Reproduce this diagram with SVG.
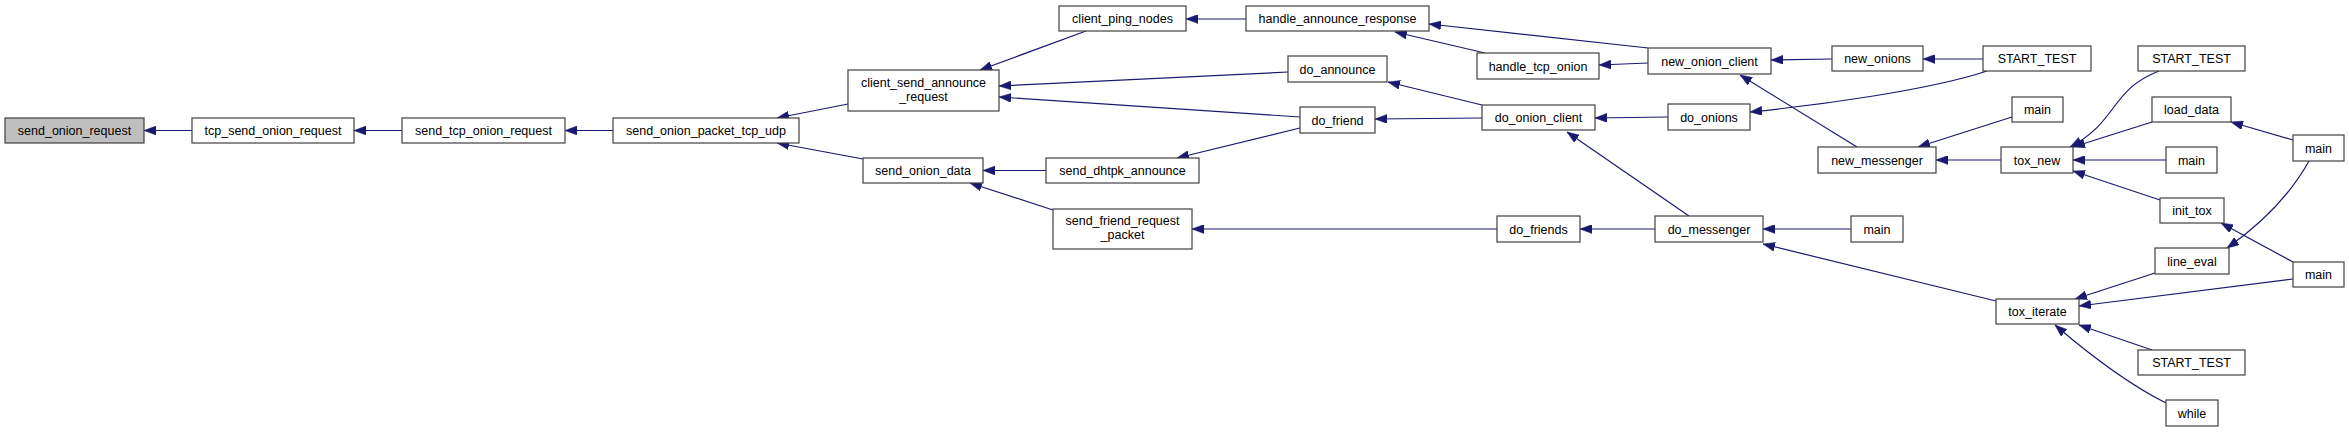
<svg xmlns="http://www.w3.org/2000/svg" width="2349" height="432" viewBox="0 0 2349 432">
<style>
.n rect{fill:#fff;stroke:#404040;stroke-width:1.2}
.n.root rect{fill:#bfbfbf}
.n text{font-family:"Liberation Sans",Arial,sans-serif;font-size:12.5px;fill:#000;text-anchor:middle}
.e path{fill:none;stroke:#191970;stroke-width:1.2;marker-end:url(#ah)}
</style>
<defs>
<marker id="ah" markerUnits="userSpaceOnUse" markerWidth="12" markerHeight="9" refX="12" refY="4.5" orient="auto">
<path d="M0,0 L12,4.5 L0,9 z" fill="#191970" stroke="#191970" stroke-width="0.5"/>
</marker>
</defs>
<rect width="2349" height="432" fill="#fff"/>
<g id="edges" class="e">
<path d="M192,130.5 L144,130.5"/>
<path d="M402,130.5 L354,130.5"/>
<path d="M613,130.5 L565,130.5"/>
<path d="M848,104 L777,118"/>
<path d="M863,159 L777,143"/>
<path d="M1086,31 L980,70"/>
<path d="M1288,72 L999,86"/>
<path d="M1300,117 L999,97"/>
<path d="M1046,170.5 L983,170.5"/>
<path d="M1053,210 L970,183"/>
<path d="M1246,19 L1186,19"/>
<path d="M1300,128 L1177,158"/>
<path d="M1497,229 L1192,229"/>
<path d="M1648,48 L1429,24"/>
<path d="M1485,53 L1395,32"/>
<path d="M1482,105 L1388,82"/>
<path d="M1482,118 L1375,119"/>
<path d="M1648,63 L1599,65"/>
<path d="M1668,117 L1595,118"/>
<path d="M1689,216 L1567,132"/>
<path d="M1655,229 L1580,229"/>
<path d="M1832,59 L1771,60"/>
<path d="M1857,147 L1740,75"/>
<path d="M1983,59 L1923,59"/>
<path d="M1987,71 C1930,90 1820,105 1750,112"/>
<path d="M2001,160 L1936,160"/>
<path d="M2012,117 L1918,147"/>
<path d="M1851,229 L1763,229"/>
<path d="M1996,301 L1763,244"/>
<path d="M2159,71 C2110,90 2118,122 2070,147"/>
<path d="M2152,122 L2073,147"/>
<path d="M2166,160 L2073,160"/>
<path d="M2160,200 L2073,171"/>
<path d="M2293,140 L2231,122"/>
<path d="M2309,161 C2290,195 2260,225 2227,248"/>
<path d="M2293,262 L2221,223"/>
<path d="M2155,273 L2075,299"/>
<path d="M2293,279 L2079,306"/>
<path d="M2152,350 L2079,325"/>
<path d="M2166,403 C2130,385 2090,355 2055,325"/>
</g>
<g id="n0" class="n root"><rect x="5" y="118" width="139" height="25"/><text x="74.5" y="135">send_onion_request</text></g>
<g id="n1" class="n"><rect x="192" y="118" width="162" height="25"/><text x="273" y="135">tcp_send_onion_request</text></g>
<g id="n2" class="n"><rect x="402" y="118" width="163" height="25"/><text x="483.5" y="135">send_tcp_onion_request</text></g>
<g id="n3" class="n"><rect x="613" y="118" width="186" height="25"/><text x="706" y="135">send_onion_packet_tcp_udp</text></g>
<g id="n4" class="n"><rect x="848" y="70" width="151" height="41"/><text x="923.5" y="87">client_send_announce</text><text x="923.5" y="101">_request</text></g>
<g id="n5" class="n"><rect x="863" y="158" width="120" height="25"/><text x="923" y="175">send_onion_data</text></g>
<g id="n6" class="n"><rect x="1059" y="6" width="127" height="25"/><text x="1122.5" y="23">client_ping_nodes</text></g>
<g id="n7" class="n"><rect x="1046" y="158" width="153" height="25"/><text x="1122.5" y="175">send_dhtpk_announce</text></g>
<g id="n8" class="n"><rect x="1053" y="209" width="139" height="40"/><text x="1122.5" y="225">send_friend_request</text><text x="1122.5" y="239">_packet</text></g>
<g id="n9" class="n"><rect x="1246" y="6" width="183" height="25"/><text x="1337.5" y="23">handle_announce_response</text></g>
<g id="n10" class="n"><rect x="1288" y="56" width="99" height="26"/><text x="1337.5" y="73.5">do_announce</text></g>
<g id="n11" class="n"><rect x="1300" y="107" width="75" height="26"/><text x="1337.5" y="124.5">do_friend</text></g>
<g id="n12" class="n"><rect x="1477" y="53" width="122" height="26"/><text x="1538" y="70.5">handle_tcp_onion</text></g>
<g id="n13" class="n"><rect x="1482" y="105" width="113" height="25"/><text x="1538.5" y="122">do_onion_client</text></g>
<g id="n14" class="n"><rect x="1497" y="216" width="83" height="26"/><text x="1538.5" y="233.5">do_friends</text></g>
<g id="n15" class="n"><rect x="1648" y="48" width="123" height="26"/><text x="1709.5" y="65.5">new_onion_client</text></g>
<g id="n16" class="n"><rect x="1668" y="104" width="82" height="26"/><text x="1709" y="121.5">do_onions</text></g>
<g id="n17" class="n"><rect x="1655" y="216" width="108" height="26"/><text x="1709" y="233.5">do_messenger</text></g>
<g id="n18" class="n"><rect x="1832" y="46" width="91" height="25"/><text x="1877.5" y="63">new_onions</text></g>
<g id="n19" class="n"><rect x="1818" y="147" width="118" height="26"/><text x="1877" y="164.5">new_messenger</text></g>
<g id="n20" class="n"><rect x="1851" y="216" width="52" height="26"/><text x="1877" y="233.5">main</text></g>
<g id="n21" class="n"><rect x="1983" y="46" width="108" height="25"/><text x="2037" y="63">START_TEST</text></g>
<g id="n22" class="n"><rect x="1996" y="299" width="83" height="25"/><text x="2037.5" y="316">tox_iterate</text></g>
<g id="n23" class="n"><rect x="2012" y="97" width="51" height="25"/><text x="2037.5" y="114">main</text></g>
<g id="n24" class="n"><rect x="2001" y="147" width="72" height="26"/><text x="2037" y="164.5">tox_new</text></g>
<g id="n25" class="n"><rect x="2138" y="46" width="107" height="25"/><text x="2191.5" y="63">START_TEST</text></g>
<g id="n26" class="n"><rect x="2152" y="97" width="79" height="25"/><text x="2191.5" y="114">load_data</text></g>
<g id="n27" class="n"><rect x="2166" y="147" width="51" height="26"/><text x="2191.5" y="164.5">main</text></g>
<g id="n28" class="n"><rect x="2160" y="198" width="64" height="25"/><text x="2192" y="215">init_tox</text></g>
<g id="n29" class="n"><rect x="2155" y="248" width="74" height="26"/><text x="2192" y="265.5">line_eval</text></g>
<g id="n30" class="n"><rect x="2138" y="350" width="107" height="25"/><text x="2191.5" y="367">START_TEST</text></g>
<g id="n31" class="n"><rect x="2166" y="400" width="52" height="26"/><text x="2192" y="417.5">while</text></g>
<g id="n32" class="n"><rect x="2293" y="135" width="51" height="26"/><text x="2318.5" y="152.5">main</text></g>
<g id="n33" class="n"><rect x="2293" y="262" width="51" height="25"/><text x="2318.5" y="279">main</text></g>
</svg>
